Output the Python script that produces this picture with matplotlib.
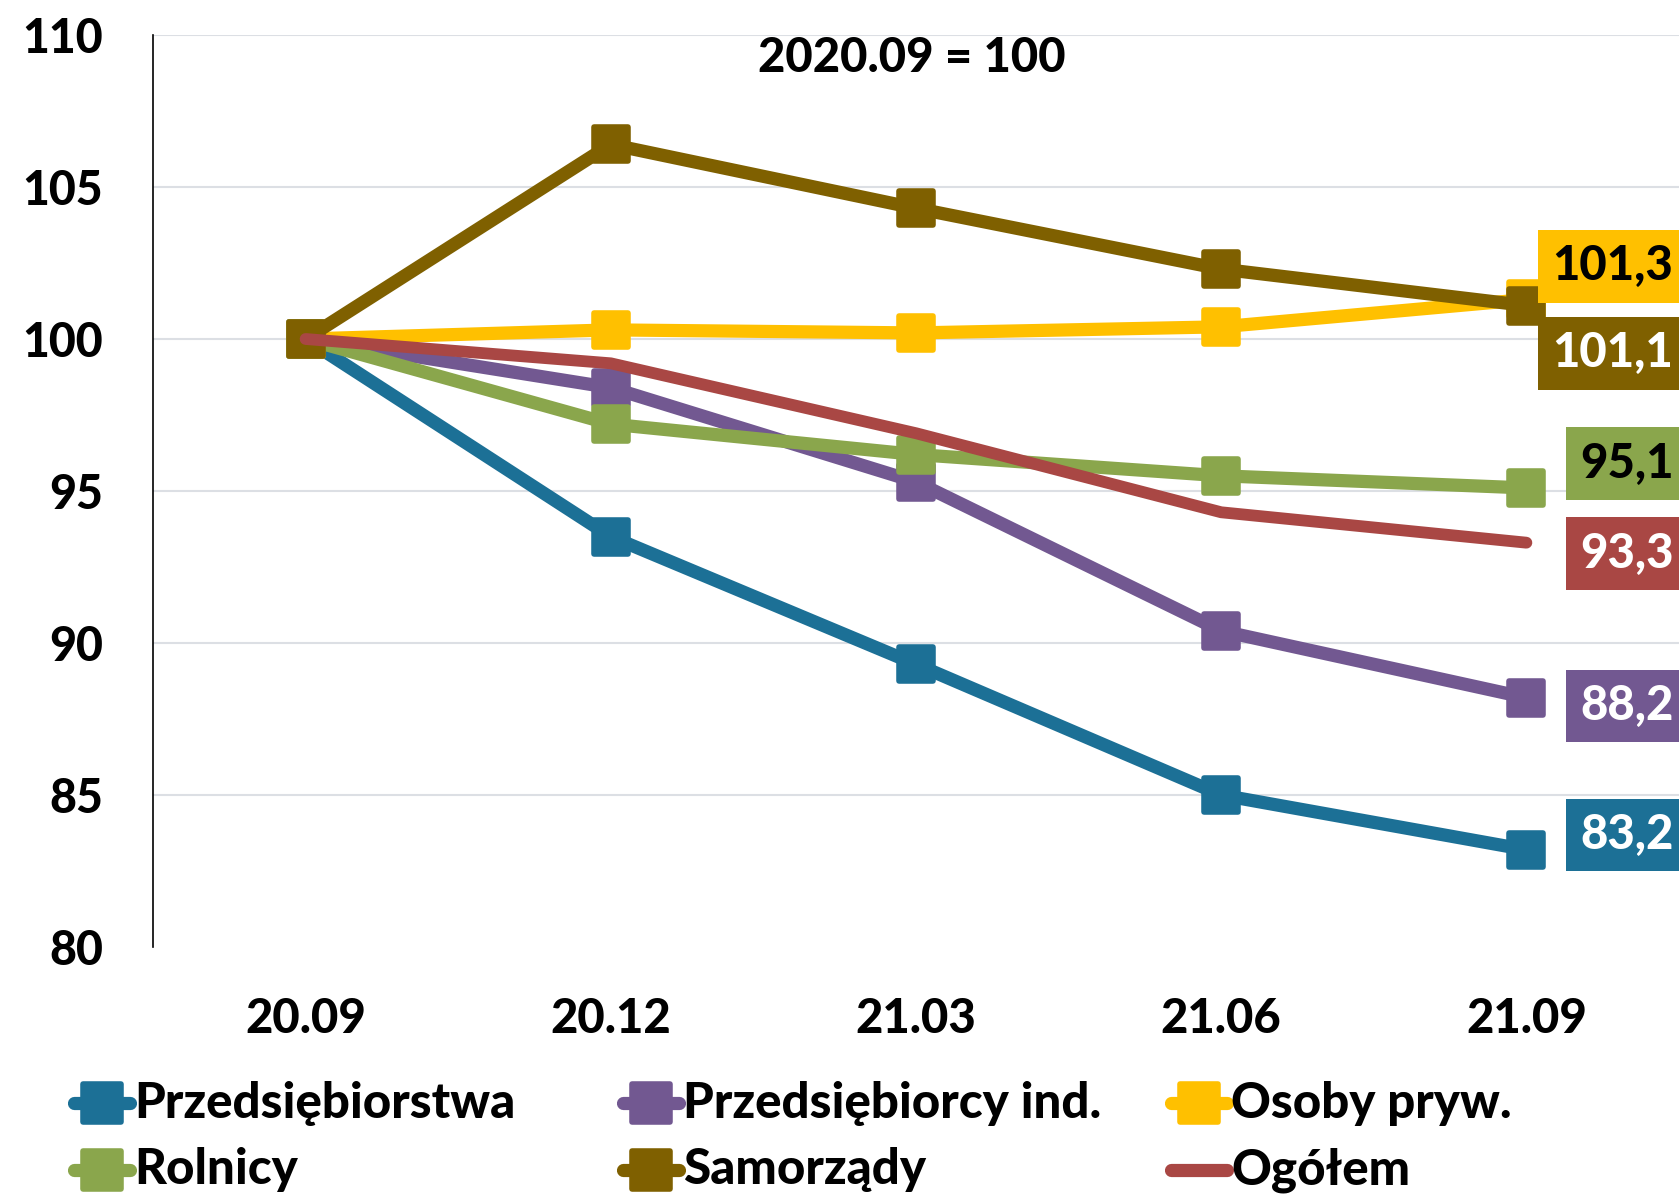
import matplotlib.pyplot as plt
from matplotlib.markers import MarkerStyle
from matplotlib.lines import Line2D

plt.rcParams['font.family'] = ['Lato', 'DejaVu Sans']
plt.rcParams['font.weight'] = 'black'

periods = ['20.09', '20.12', '21.03', '21.06', '21.09']
przedsiebiorstwa = [100, 93.5, 89.3, 85.0, 83.2]
przedsiebiorcy_ind = [100, 98.4, 95.3, 90.4, 88.2]
osoby_pryw = [100, 100.3, 100.2, 100.4, 101.3]
rolnicy = [100, 97.2, 96.2, 95.5, 95.1]
samorzady = [100, 106.4, 104.3, 102.3, 101.1]
ogolem = [100, 99.2, 96.9, 94.3, 93.3]

names = ['Przedsiębiorstwa', 'Przedsiębiorcy ind.', 'Osoby pryw.',
         'Rolnicy', 'Samorządy', 'Ogółem']
values = [przedsiebiorstwa, przedsiebiorcy_ind, osoby_pryw, rolnicy, samorzady, ogolem]

# styling
colors = ['#1c7096', '#725891', '#ffc000', '#8aa64c', '#7f6000', '#a94744']
has_marker = [True, True, True, True, True, False]
label_colors = ['white', 'white', 'black', 'black', 'white', 'white']
label_shift_px = [14.5, -8, 33, 24.3, -47.8, -10.9]   # end label box vs last point

W, H = 1679, 1196
fig = plt.figure(figsize=(W / 100, H / 100), dpi=100)
ax = fig.add_axes([153 / W, 1 - 947 / H, 1 - 153 / W, (947 - 35) / H])

sq = MarkerStyle('s', joinstyle='round')
x = list(range(len(periods)))
for i in range(len(names)):
    if has_marker[i]:
        ax.plot(x, values[i], color=colors[i], lw=9.5, marker=sq, ms=25,
                mew=4, mec=colors[i], solid_joinstyle='round', clip_on=False)
    else:
        ax.plot(x, values[i], color=colors[i], lw=8.5, solid_capstyle='round',
                solid_joinstyle='round', clip_on=False)

for i in range(len(names)):
    v = values[i][-1]
    ax.annotate(('%.1f' % v).replace('.', ','), xy=(x[-1], v), xycoords='data',
                xytext=(147 * 0.72, label_shift_px[i] * 0.72), textcoords='offset points',
                ha='right', va='center', fontsize=34, color=label_colors[i],
                bbox=dict(boxstyle='square,pad=0.3', fc=colors[i], ec='none'),
                annotation_clip=False)

ax.set_xlim(-0.5, 4.5)
ax.set_ylim(80, 110)
ax.set_xticks(x)
ax.set_xticklabels(periods)
ax.set_yticks(range(80, 111, 5))
ax.tick_params(axis='x', length=0, pad=36, labelsize=34)
ax.tick_params(axis='y', length=0, pad=36, labelsize=33.5)
ax.grid(axis='y', color='#dcdfe4', lw=1.5)
ax.yaxis.get_gridlines()[0].set_visible(False)
ax.set_axisbelow(True)
for s in ['top', 'right', 'bottom']:
    ax.spines[s].set_visible(False)
ax.spines['left'].set_linewidth(1.2)

ax.text(0.497, 0.975, '2020.09 = 100', transform=ax.transAxes,
        ha='center', va='center', fontsize=34)

# legend drawn by hand, three columns x two rows
col_x = [70, 619, 1167]
row_y = [1103, 1170]
for i in range(len(names)):
    cx = col_x[i % 3]
    cy = 1 - row_y[i // 3] / H
    fig.add_artist(Line2D([(cx + 4) / W, (cx + 60) / W], [cy, cy], color=colors[i],
                          lw=9.5, solid_capstyle='round'))
    if has_marker[i]:
        fig.add_artist(Line2D([(cx + 32) / W], [cy], marker=sq, ms=27, mew=4,
                              color=colors[i], mec=colors[i]))
    fig.text((cx + 64) / W, cy, names[i], ha='left', va='center', fontsize=35.5)

fig.savefig('out.png', dpi=100)
